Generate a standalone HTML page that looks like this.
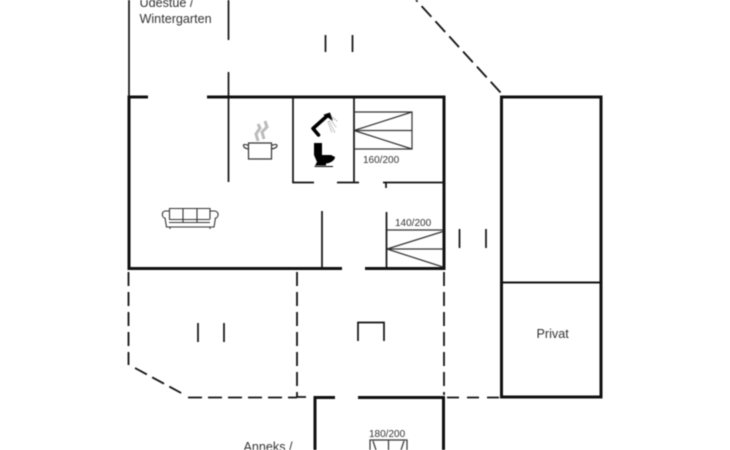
<!DOCTYPE html>
<html><head><meta charset="utf-8"><style>
html,body{margin:0;padding:0;background:#fff}
svg{display:block;filter:blur(.4px)}
text{font-family:"Liberation Sans",sans-serif;fill:#333}
</style></head><body>
<svg width="730" height="450" viewBox="0 0 730 450" xmlns="http://www.w3.org/2000/svg">
<g fill="none" stroke="#111" stroke-linecap="butt">
<!-- thick walls -->
<g stroke-width="3">
<path d="M148 97H129V268.500H342"/>
<path d="M207 97H444V268.500H365"/>
<path d="M335 397.500H315V450"/>
<path d="M358 397.500H443.500V450"/>
<path d="M501.500 97H601V397H501.500Z"/>
</g>
<!-- thin walls -->
<g stroke-width="1.700">
<path d="M129 0V96"/>
<path d="M228.500 0V40M228.500 72V182"/>
<path d="M293 97V182.500H314M337 182.500H359"/>
<path d="M354 97V182.500"/>
<path d="M383 182.500H443M386 182.500V188"/>
<path d="M322 211V268"/>
<path d="M386.500 212V268"/>
<path d="M502 282.500H601" stroke-width="2"/>
<path d="M325.500 35V52M352.500 35V52"/>
<path d="M459.500 229V248M486 229V248"/>
<path d="M198 323V342M224 323V342"/>
<path d="M358 341V322.500H384V341"/>
</g>
<!-- beds -->
<g stroke-width="1.200" stroke="#333">
<path d="M354 112H412V149H354M354 130.500H412M354 130.500L412 112M354 130.500L412 149"/>
<path d="M387 230H443M387 249H443M387 249L443 231.500M387 249L443 267"/>
<path d="M370 450V440H407V450M388.500 440V450M373 441L376 450M404 441L401 450"/>
</g>
<!-- dashed -->
<g stroke-width="1.800">
<path d="M128.500 272V365" stroke-dasharray="14 6"/>
<path d="M135 368L183 394" stroke-dasharray="13.500 6"/>
<path d="M188 397.500H297" stroke-dasharray="14 6"/>
<path d="M297 272V397H310" stroke-dasharray="14 6"/>
<path d="M444 272V395" stroke-dasharray="14 6"/>
<path d="M447 397.500H500" stroke-dasharray="12 8"/>
<path d="M500.500 92.500L416 0" stroke-dasharray="14.500 6"/>
</g>
<!-- pot -->
<g stroke="#333" stroke-width="1.200">
<path d="M248.500 143H271.500V159H248.500Z"/>
<path d="M248.500 145.500C245 144 243 144 243.500 146C244 148 246 148.500 248.500 149"/>
<path d="M271.500 145.500C275 144 277.500 144 277 146C276.500 148 274 148.500 271.500 149"/>
</g>
<path d="M258 141L256 134L260 128L258 124M264 139L262 132L267 127L265 121" stroke="#bbb" stroke-width="3"/>
<!-- shower -->
<path d="M327 116L313 128.500L318.500 135" stroke="#000" stroke-width="3.600" stroke-linejoin="round" stroke-linecap="round"/>
<path d="M325 115L329.500 113.500L331.500 119Z" fill="#000" stroke="#000" stroke-width="1.500"/>
<path d="M331 116L337 121M330 119L336 127M329 121L335 133M328 122L332 133" stroke="#777" stroke-width="1" stroke-dasharray="1 1.300"/>
<!-- sofa -->
<g stroke="#333" stroke-width="1.100">
<path d="M169.500 219V208.500H210V219M183 208.500V222M197 208.500V222"/>
<path d="M169.500 211H165C161 212 162 218 165 218L166.500 227H214L215.500 218C218.500 218 219.500 212 215 211H210"/>
<path d="M169 219.500H210M169 222.500H210M170 227V229M210 227V229"/>
</g>
</g>
<!-- toilet -->
<path d="M314 143H322V155H331L335 157C335 160 331 163 326 163.500L326 165.500H315L317 162L314 155Z" fill="#000"/>
<path d="M314.500 166.500H333" stroke="#000" stroke-width="1"/>
<text x="139.500" y="7" font-size="12.600">Udestue /</text>
<text x="139.500" y="23" font-size="12.600">Wintergarten</text>
<text x="363" y="163" font-size="10">160/200</text>
<text x="395" y="226" font-size="10">140/200</text>
<text x="369" y="437" font-size="10">180/200</text>
<text x="536.500" y="338" font-size="12.600">Privat</text>
<text x="243.500" y="451" font-size="12.600">Anneks /</text>
</svg>
</body></html>
